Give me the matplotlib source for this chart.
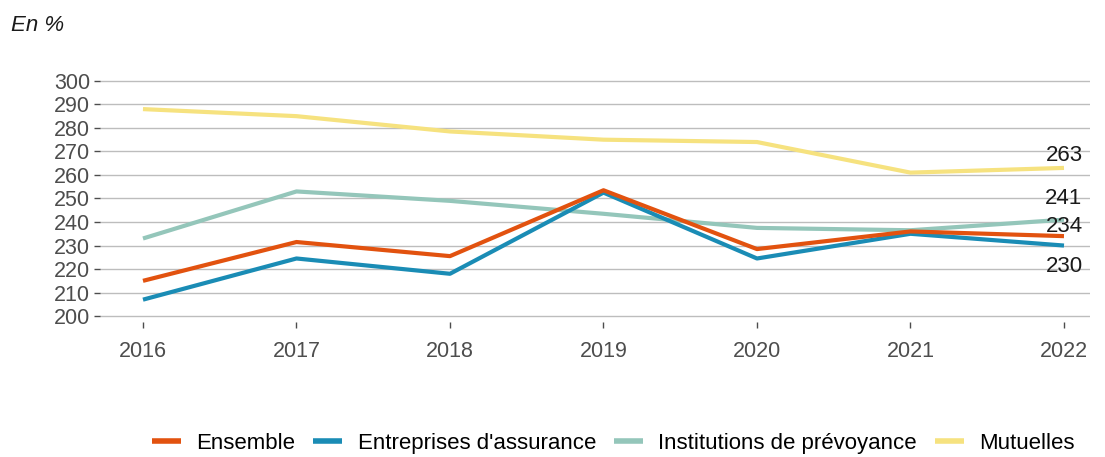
import matplotlib
matplotlib.use("Agg")
import matplotlib.pyplot as plt

years = [2016, 2017, 2018, 2019, 2020, 2021, 2022]
ensemble = [215, 231.5, 225.5, 253.5, 228.5, 236, 234]
entreprises = [207, 224.5, 218, 252.5, 224.5, 235, 230]
institutions = [233, 253, 249, 243.5, 237.5, 236.5, 241]
mutuelles = [288, 285, 278.5, 275, 274, 261, 263]

series_names = ["Ensemble", "Entreprises d'assurance", "Institutions de prévoyance", "Mutuelles"]
series_values = [ensemble, entreprises, institutions, mutuelles]
colors = ["#E2520F", "#1A8CB5", "#94C6BA", "#F6E27F"]
yticks = list(range(200, 301, 10))

# vertical offset (points) for each end label
label_offsets = [7, -15, 15, 9]

plt.rcParams["font.family"] = ["Liberation Sans", "DejaVu Sans"]

fig = plt.figure(figsize=(11.05, 4.57), dpi=100)
ax = fig.add_axes([0.0905, 0.2954, 0.896, 0.5405])

for name, vals, col in zip(series_names[::-1], series_values[::-1], colors[::-1]):
    ax.plot(years, vals, color=col, lw=3.0, label=name, solid_capstyle="butt", zorder=3)

for vals, off in zip(series_values, label_offsets):
    v = vals[-1]
    ax.annotate(f"{v:g}", xy=(years[-1], v), xytext=(0, off), textcoords="offset points",
                ha="center", va="center", fontsize=16, color="#1a1a1a", zorder=5)

ax.set_xlim(2015.72, 2022.17)
ax.set_ylim(197.5, 302.5)
ax.set_yticks(yticks)
ax.set_xticks(years)
ax.grid(axis="y", color="#bdbdbd", lw=1.0)
ax.set_axisbelow(True)
for s in ax.spines.values():
    s.set_visible(False)
ax.tick_params(axis="both", colors="#4d4d4d", labelsize=15.5, length=4, width=1)
ax.tick_params(axis="y", pad=3)
ax.tick_params(axis="x", pad=10)

fig.text(0.01, 0.945, "En %", fontsize=16, style="italic", color="#1a1a1a", va="center")

handles, labels = ax.get_legend_handles_labels()
leg = fig.legend(handles[::-1], labels[::-1], loc="center", bbox_to_anchor=(0.555, 0.03),
                 ncol=4, frameon=False, fontsize=16, handlelength=1.3, handletextpad=0.7,
                 columnspacing=0.8)
for h in leg.get_lines():
    h.set_linewidth(4)

fig.savefig("out.png", dpi=100)
